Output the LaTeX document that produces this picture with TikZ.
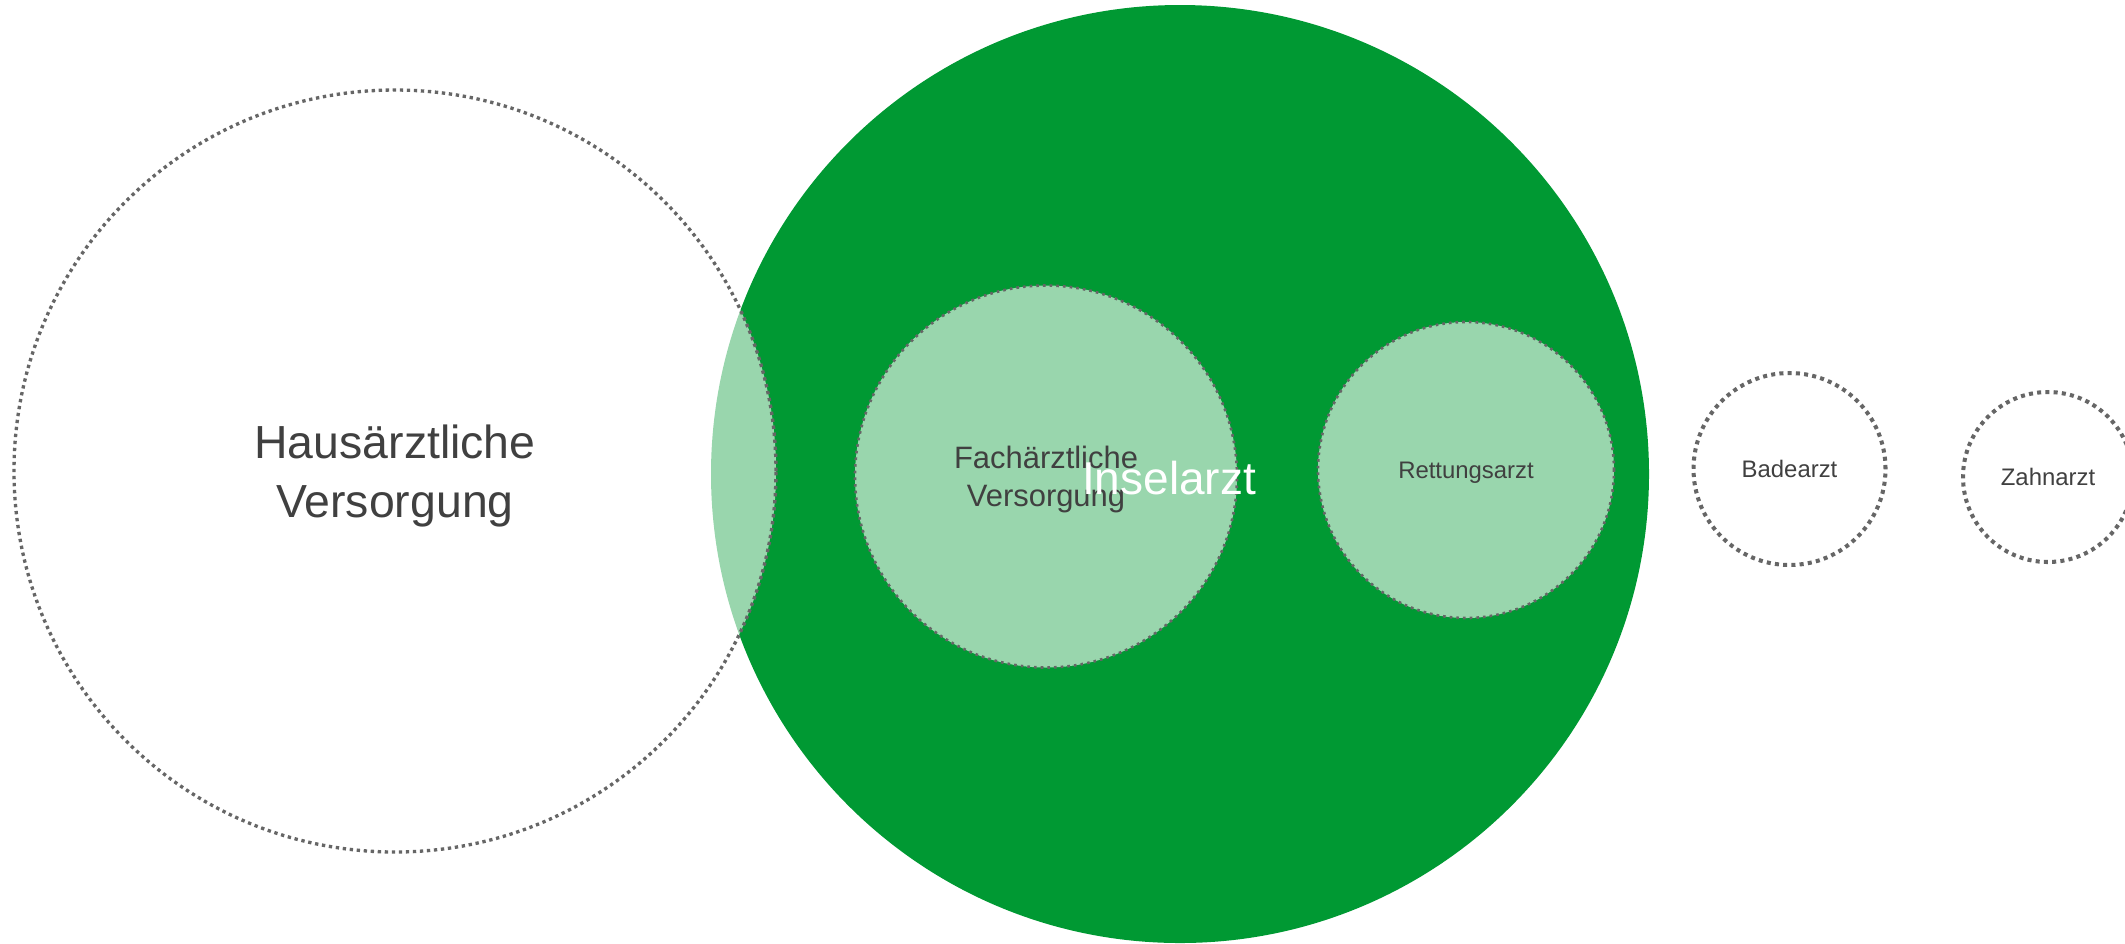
\documentclass[tikz,border=0pt]{standalone}
\usepackage{fontspec}
\setmainfont{Liberation Sans}
\usepackage{xcolor}
\usetikzlibrary{positioning}
\definecolor{inselgreen}{HTML}{009933}
\definecolor{dotgray}{HTML}{666666}
\definecolor{textgray}{HTML}{404040}
\tikzset{
    ring/.style={circle, inner sep=0pt, draw=dotgray, text=textgray, align=center, text depth=0pt},
    bigdots/.style={ring, line width=0.95pt, dash pattern=on 0.95pt off 1.05pt},
    middots/.style={ring, line width=0.75pt, dash pattern=on 0.75pt off 1.15pt},
    smalldots/.style={ring, line width=1.15pt, dash pattern=on 1.15pt off 1.2pt},
    paler/.style={fill=white, fill opacity=0.6, text opacity=1, draw opacity=1}
}
\begin{document}
\begin{tikzpicture}
        \useasboundingbox (0,0) rectangle (21.25,-9.43);
        \clip (0,0) rectangle (21.25,-9.43);
        % Draw green region
        \node[circle, inner sep=0pt, fill=inselgreen, minimum size=9.38cm] (insel) at (11.80,-4.74) {};
        % Draw dotted circles
        \node[bigdots, paler, minimum size=7.62cm, font=\fontsize{13.2}{16.8}\selectfont] (haus) at (3.95,-4.71) {Hausärztliche\\Versorgung};
        \node[middots, paler, minimum size=3.82cm, font=\fontsize{8.8}{10.8}\selectfont] (fach) at (10.46,-4.765) {Fachärztliche\\Versorgung};
        \node[middots, paler, minimum size=2.96cm, font=\fontsize{6.8}{8}\selectfont] (rettung) at (14.66,-4.70) {Rettungsarzt};
        \node[smalldots, minimum size=1.92cm, font=\fontsize{6.8}{8}\selectfont] (bade) at (17.895,-4.69) {Badearzt};
        \node[smalldots, minimum size=1.70cm, font=\fontsize{6.8}{8}\selectfont] (zahn) at (20.48,-4.77) {Zahnarzt};
        % Label of green region
        \node[text=white, inner sep=0pt, font=\fontsize{13.1}{15}\selectfont] (insellabel) at (11.69,-4.78) {Inselarzt};
        \end{tikzpicture}
\end{document}
